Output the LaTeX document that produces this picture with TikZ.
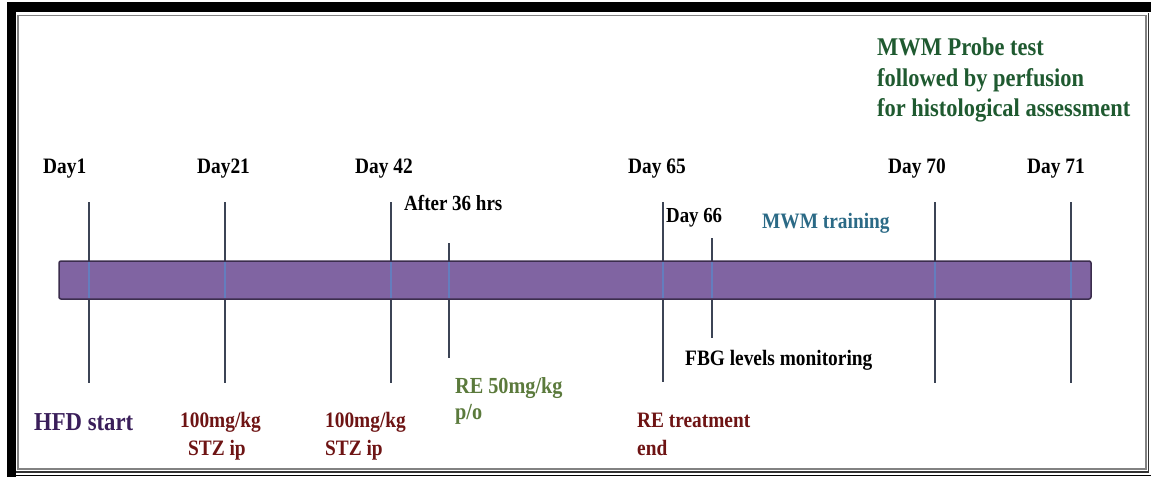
\documentclass[tikz,border=0pt]{standalone}
\usepackage{fontspec}
\setmainfont{Liberation Serif}[FakeStretch=0.88]
\definecolor{barfill}{RGB}{128,100,162}
\definecolor{barline}{RGB}{59,45,77}
\definecolor{tickc}{RGB}{60,68,85}
\definecolor{tickon}{RGB}{100,125,190}
\definecolor{hfdc}{RGB}{58,30,90}
\definecolor{redc}{RGB}{110,20,20}
\definecolor{olivec}{RGB}{91,122,60}
\definecolor{tealc}{RGB}{43,106,134}
\definecolor{greenc}{RGB}{31,90,48}
\definecolor{framegray}{RGB}{130,130,130}
\tikzset{
  lbl/.style={inner sep=0pt, anchor=base west, font=\bfseries\fontsize{22}{26}\selectfont},
  tickline/.style={draw=tickc, line width=1.4pt},
  tickover/.style={draw=tickon, line width=2pt},
}
\begin{document}
\begin{tikzpicture}[x=1pt,y=-1pt]
\fill[white] (0,0) rectangle (1151,477);
\useasboundingbox (0,0) rectangle (1151,477);
% tick coordinates
\foreach \n/\x/\ya/\yb in {a/89/202/383, b/225/202/383, c/391/202/383, d/449/243/358, e/663/202/382, f/712/238/338, g/935/202/383, h/1071/202/383}{
  \coordinate (\n top) at (\x,\ya);
  \coordinate (\n bot) at (\x,\yb);
  \coordinate (\n bt) at (\x,262);
  \coordinate (\n bb) at (\x,298);
}
\foreach \n in {a,b,c,d,e,f,g,h}{\draw[tickline] (\n top) -- (\n bot);}
% bar
\coordinate (barA) at (59,261);
\coordinate (barB) at (1091,299);
\draw[fill=barfill, draw=barline, line width=1.5pt, rounded corners=2pt] (barA) rectangle (barB);
\foreach \n in {a,b,c,d,e,f,g,h}{\draw[tickover] (\n bt) -- (\n bb);}
% top labels
\node[lbl] (d1) at (43,173) {Day1};
\node[lbl] (d21) at (197,173) {Day21};
\node[lbl] (d42) at (355,173) {Day 42};
\node[lbl] (d65) at (628,173) {Day 65};
\node[lbl] (d70) at (888,173) {Day 70};
\node[lbl] (d71) at (1027,173) {Day 71};
\node[lbl, font=\bfseries\fontsize{21.6}{26}\selectfont] (a36) at (404,210) {After 36 hrs};
\node[lbl, font=\bfseries\fontsize{21.4}{26}\selectfont] (d66) at (666,222) {Day 66};
\node[lbl, text=tealc] (mwmt) at (762,228) {MWM training};
\node[lbl, text=greenc, font=\bfseries\fontsize{25.5}{31}\selectfont] (pr1) at (877,55) {MWM Probe test};
\node[lbl, text=greenc, font=\bfseries\fontsize{25.5}{31}\selectfont] (pr2) at (877,86) {followed by perfusion};
\node[lbl, text=greenc, font=\bfseries\fontsize{25.5}{31}\selectfont] (pr3) at (877,116) {for histological assessment};
% bottom labels
\node[lbl] (fbg) at (685,365) {FBG levels monitoring};
\node[lbl, text=olivec, font=\bfseries\fontsize{23}{26}\selectfont] (re1) at (455,393) {RE 50mg/kg};
\node[lbl, text=olivec, font=\bfseries\fontsize{23}{26}\selectfont] (re2) at (455,419) {p/o};
\node[lbl, text=redc] (ret1) at (637,427) {RE treatment};
\node[lbl, text=redc] (ret2) at (637,455) {end};
\node[lbl, text=hfdc, font=\bfseries\fontsize{25.8}{30}\selectfont] (hfd) at (34,430) {HFD start};
\node[lbl, text=redc] (s1a) at (180,427) {100mg/kg};
\node[lbl, text=redc] (s1b) at (188,455) {STZ ip};
\node[lbl, text=redc] (s2a) at (325,427) {100mg/kg};
\node[lbl, text=redc] (s2b) at (325,455) {STZ ip};
% frame
\draw[framegray, line width=1.5pt] (18,15.5) rectangle (1146,469);
\draw[black!80, line width=1.2pt] (1148.5,13) -- (1148.5,472) -- (15,472);
\draw[black, line width=1.5pt] (7,475.5) -- (1151,475.5);
\fill[black] (6.5,2) rectangle (1151,12);
\fill[black] (6.5,2) rectangle (16,477);
\end{tikzpicture}
\end{document}
